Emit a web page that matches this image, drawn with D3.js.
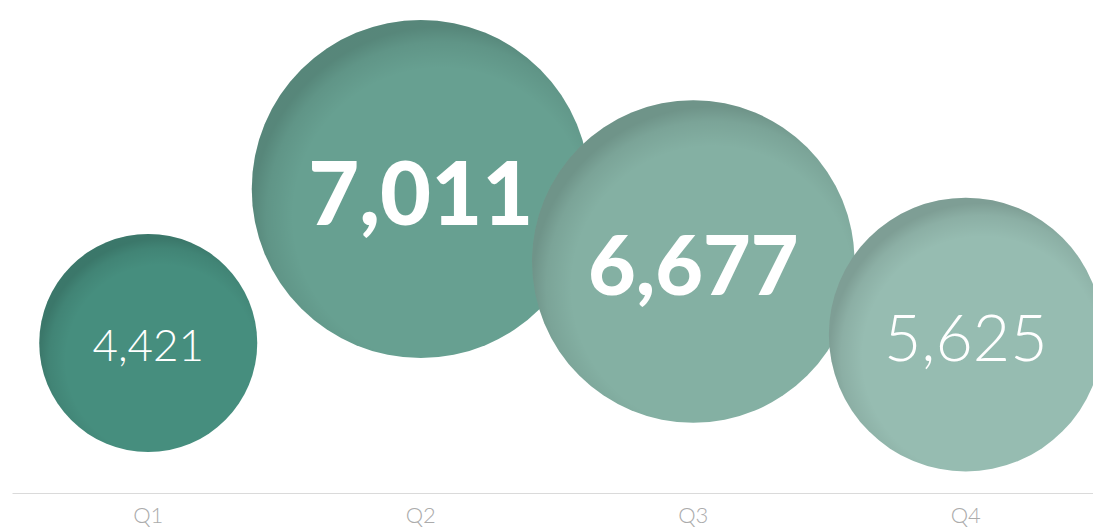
<!DOCTYPE html>
<html>
<head>
<meta charset="utf-8">
<script src="https://cdn.jsdelivr.net/npm/d3@7"></script>
<style>
  html, body { margin: 0; padding: 0; background: #fff; }
  svg { display: block; }
</style>
</head>
<body>
<svg id="chart" width="1093" height="527"></svg>
<script>
// Quarterly totals
const categories = ["Q1", "Q2", "Q3", "Q4"];
const values = [4421, 7011, 6677, 5625];

const width = 1093, height = 527;
const baseline = 493;

const svg = d3.select("#chart");

// Horizontal placement: one band per quarter
const x = d3.scaleBand().domain(categories).range([12, 1102]).padding(0);

// Bubble size, vertical position and label size all follow the value;
// the steep power scale lifts the top quarters well above the rest
const extent = d3.extent(values);
const r = d3.scaleLinear().domain(extent).range([109, 169]);
const y = d3.scalePow().exponent(13).domain(extent).range([343, 189]);
const fontSize = d3.scaleLinear().domain(extent).range([44, 88]);
const meanValue = d3.mean(values);

const fill = d3.scaleOrdinal()
  .domain(categories)
  .range(["#468e7e", "#67a091", "#84b0a3", "#96bcb1"]);

// Soft shading along the upper-left rim of each bubble
const defs = svg.append("defs");
const shade = defs.append("radialGradient")
  .attr("id", "rim-shade")
  .attr("cx", 0.56).attr("cy", 0.58).attr("r", 0.56)
  .attr("fx", 0.56).attr("fy", 0.58);
shade.append("stop").attr("offset", 0.78).attr("stop-color", "#000").attr("stop-opacity", 0);
shade.append("stop").attr("offset", 0.92).attr("stop-color", "#000").attr("stop-opacity", 0.07);
shade.append("stop").attr("offset", 1).attr("stop-color", "#000").attr("stop-opacity", 0.16);

const data = categories.map((c, i) => ({ category: c, value: values[i] }));

const bubbles = svg.append("g").attr("class", "bubbles")
  .selectAll("g")
  .data(data)
  .join("g")
  .attr("transform", d => `translate(${x(d.category) + x.bandwidth() / 2},${y(d.value)})`);

bubbles.append("circle")
  .attr("r", d => r(d.value))
  .attr("fill", d => fill(d.category));

bubbles.append("circle")
  .attr("r", d => r(d.value))
  .attr("fill", "url(#rim-shade)");

bubbles.append("text")
  .attr("text-anchor", "middle")
  .attr("dy", "0.41em")
  .attr("fill", "#ffffff")
  .style("font-family", "Lato, 'Open Sans', sans-serif")
  .style("font-size", d => fontSize(d.value) + "px")
  .style("font-weight", d => d.value > meanValue ? 900 : 300)
  .text(d => d3.format(",")(d.value));

// Category axis along the bottom
const axis = svg.append("g")
  .attr("transform", `translate(0,${baseline})`)
  .call(d3.axisBottom(x).tickSize(0).tickSizeOuter(0).tickPadding(14));

axis.select(".domain").attr("stroke", "#dadada").attr("stroke-width", 1);
axis.selectAll(".tick text")
  .attr("fill", "#ababab")
  .style("font-family", "Lato, 'Open Sans', sans-serif")
  .style("font-weight", 300)
  .style("font-size", "22px");
</script>
</body>
</html>
